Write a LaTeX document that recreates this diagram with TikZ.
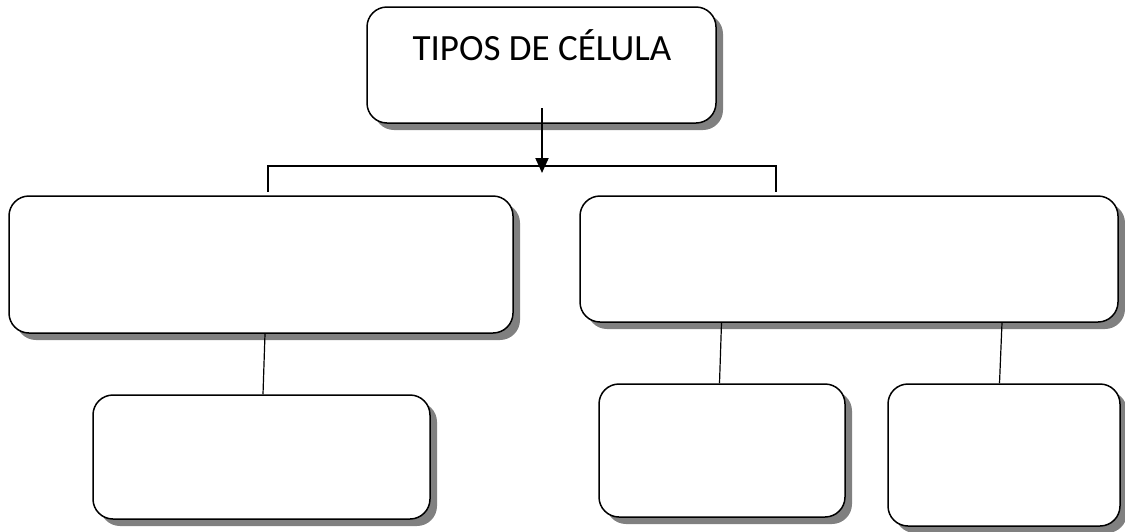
\documentclass[tikz,border=0pt]{standalone}
\usepackage{fontspec}
\setmainfont{Carlito}
\usetikzlibrary{shadows,arrows.meta}
\definecolor{shadowgray}{RGB}{128,128,128}
\tikzset{
  cbox/.style={draw=black, line width=1.5pt, fill=white, rounded corners=20pt,
    inner sep=0pt, drop shadow={shadow xshift=7pt, shadow yshift=-7pt, fill=shadowgray, opacity=1}},
  link/.style={draw=black, line width=1.2pt},
  lbl/.style={font=\fontsize{37}{44}\selectfont, inner sep=0pt, anchor=base}
}
\begin{document}
\begin{tikzpicture}[x=1pt,y=-1pt]
\useasboundingbox (0,0) rectangle (1125,531);
% boxes
\node[cbox, minimum width=349pt, minimum height=116pt] (top) at (541.5,65) {};
\node[cbox, minimum width=504pt, minimum height=137pt] (L) at (261,264.5) {};
\node[cbox, minimum width=538pt, minimum height=126pt] (R) at (849,259) {};
\node[cbox, minimum width=337pt, minimum height=124pt] (BL) at (261.5,457) {};
\node[cbox, minimum width=246pt, minimum height=133pt] (BM) at (722,450.5) {};
\node[cbox, minimum width=232pt, minimum height=142pt] (BR) at (1004,455) {};
% title
\node[lbl] (title) at (542,60) {TIPOS DE CÉLULA};
% arrow and bracket
\coordinate (astart) at (542,108);
\coordinate (aend) at (542,173);
\draw[line width=2pt, -{Triangle[length=15pt,width=13pt]}] (astart) -- (aend);
\coordinate (bl) at (268,192);
\coordinate (br) at (776,192);
\draw[link] (bl) -- (268,166) -- (776,166) -- (br);
% connectors
\draw[link] ([xshift=4pt]L.south) -- ([xshift=1.5pt]BL.north);
\draw[link] (R.south -| 721.5,0) -- (BM.north -| 719.5,0);
\draw[link] (R.south -| 1002,0) -- (BR.north -| 999.5,0);
\end{tikzpicture}
\end{document}
